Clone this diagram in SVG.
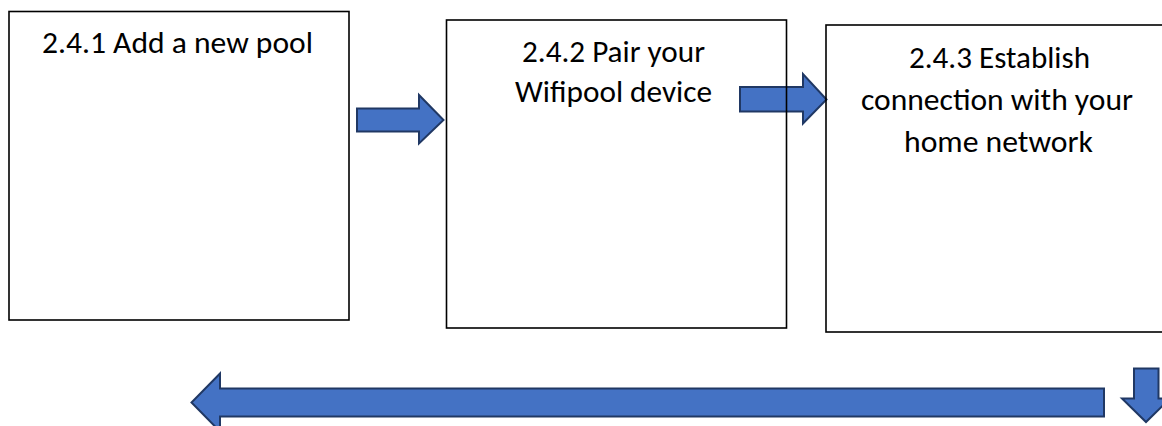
<svg xmlns="http://www.w3.org/2000/svg" width="1162" height="426" viewBox="0 0 1162 426">
<style>
.box{fill:none;stroke:#000;stroke-width:1.6}
.arr{fill:#4472C4;stroke:#203864;stroke-width:2;stroke-linejoin:miter}
.t{font-family:Carlito,Calibri,Lato,"Open Sans",sans-serif;font-size:30px;fill:#000;text-anchor:middle}
</style>
<rect width="1162" height="426" fill="#fff"/>
<g id="connectors">
<path class="arr" d="M357,108.5 H419 V95 L443.5,120 L419,143.5 V131.5 H357 Z"/>
<path class="arr" d="M740,87 H803 V74 L826.5,99.5 L803,123.5 V111.5 H740 Z"/>
<path class="arr" d="M1104,388.5 H220 V373.5 L191.5,402.5 L220,431.5 V416.5 H1104 Z"/>
<path class="arr" d="M1134,368.5 H1158.5 V398.5 H1170 L1146,422 L1122,398.5 H1134 Z"/>
</g>
<g id="node1">
<rect class="box" x="9" y="11.5" width="340" height="308.5"/>
<text class="t" x="177.5" y="53" textLength="271" lengthAdjust="spacingAndGlyphs">2.4.1 Add a new pool</text>
</g>
<g id="node2">
<rect class="box" x="446.5" y="20" width="340" height="308"/>
<text class="t" x="613.5" y="62" textLength="183" lengthAdjust="spacingAndGlyphs">2.4.2 Pair your</text>
<text class="t" x="613.5" y="102" textLength="197" lengthAdjust="spacingAndGlyphs">Wifipool device</text>
</g>
<g id="node3">
<rect class="box" x="826" y="25" width="342" height="307"/>
<text class="t" x="999.5" y="68" textLength="181" lengthAdjust="spacingAndGlyphs">2.4.3 Establish</text>
<text class="t" x="997" y="110" textLength="272" lengthAdjust="spacingAndGlyphs">connection with your</text>
<text class="t" x="998.5" y="152" textLength="189" lengthAdjust="spacingAndGlyphs">home network</text>
</g>
</svg>
